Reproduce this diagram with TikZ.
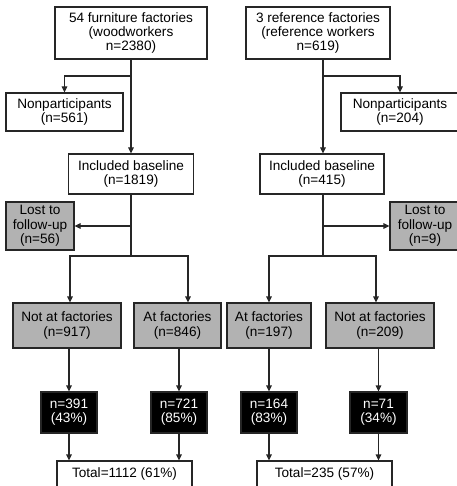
\documentclass[tikz,border=0pt]{standalone}
\usepackage{fontspec}
\setmainfont{Liberation Sans}
\usetikzlibrary{arrows.meta}
\begin{document}
\begin{tikzpicture}[x=1pt,y=-1pt,
  box/.style={draw=black!85,line width=1.1pt,fill=white,inner sep=0pt,align=center,
    font=\fontsize{13.6}{14.3}\selectfont},
  greybox/.style={box,fill=black!30},
  darkbox/.style={box,fill=black,text=white},
  ln/.style={draw=black!85,line width=1.1pt},
  arr/.style={ln,-{Triangle[length=6pt,width=5.5pt]}}]
\useasboundingbox (0,0) rectangle (456,486);

\node[box,minimum width=152,minimum height=52] (top1) at (131,33) {54 furniture factories\\(woodworkers\\n=2380)};
\node[box,minimum width=117,minimum height=38] (non1) at (64.5,112) {Nonparticipants\\(n=561)};
\node[box,minimum width=125,minimum height=40] (inc1) at (131,174) {Included baseline\\(n=1819)};
\node[greybox,minimum width=68,minimum height=48] (lost1) at (40,226) {Lost to\\follow-up\\(n=56)};
\node[greybox,minimum width=108,minimum height=45] (naf1) at (67,325.5) {Not at factories\\(n=917)};
\node[greybox,minimum width=87,minimum height=45] (af1) at (177.5,325.5) {At factories\\(n=846)};
\node[darkbox,minimum width=56,minimum height=41] (b1) at (69,412.5) {n=391\\(43\%)};
\node[darkbox,minimum width=56,minimum height=41] (b2) at (179,412.5) {n=721\\(85\%)};
\node[box,minimum width=135,minimum height=26] (tot1) at (124.5,474) {Total=1112 (61\%)};

\node[box,minimum width=144,minimum height=52] (top2) at (318,33) {3 reference factories\\(reference workers\\n=619)};
\node[box,minimum width=118,minimum height=38] (non2) at (400,112) {Nonparticipants\\(n=204)};
\node[box,minimum width=124,minimum height=40] (inc2) at (322,174) {Included baseline\\(n=415)};
\node[greybox,minimum width=70,minimum height=48] (lost2) at (425,226) {Lost to\\follow-up\\(n=9)};
\node[greybox,minimum width=84,minimum height=45] (af2) at (269,325.5) {At factories\\(n=197)};
\node[greybox,minimum width=108,minimum height=45] (naf2) at (380,325.5) {Not at factories\\(n=209)};
\node[darkbox,minimum width=56,minimum height=41] (b3) at (269,412.5) {n=164\\(83\%)};
\node[darkbox,minimum width=57,minimum height=41] (b4) at (378.5,412.5) {n=71\\(34\%)};
\node[box,minimum width=135,minimum height=26] (tot2) at (324.5,474) {Total=235 (57\%)};

\coordinate (s1) at (131,76);
\coordinate (l1) at (131,226);
\coordinate (j1) at (131,256);
\draw[arr] (top1) -- (inc1);
\draw[arr] (s1) -| (non1);
\draw[ln] (inc1) -- (j1);
\draw[arr] (l1) -- (lost1);
\draw[arr] (j1) -| ([xshift=3]naf1.north);
\draw[arr] (j1) -| ([xshift=10.5]af1.north);
\draw[arr] (b1 |- naf1.south) -- (b1);
\draw[arr] (b2 |- af1.south) -- (b2);
\draw[arr] (b1) -- (b1 |- tot1.north);
\draw[arr] (b2) -- (b2 |- tot1.north);

\coordinate (s2) at (323,76);
\coordinate (l2) at (323,226);
\coordinate (j2) at (323,256);
\draw[arr] (top2.south -| s2) -- (inc2.north -| s2);
\draw[arr] (s2) -| (non2);
\draw[ln] (inc2.south -| j2) -- (j2);
\draw[arr] (l2) -- (lost2);
\draw[arr] (j2) -| (af2);
\draw[arr] (j2) -| ([xshift=-4]naf2.north);
\draw[arr] (b3 |- af2.south) -- (b3);
\draw[arr] (b4 |- naf2.south) -- (b4);
\draw[arr] (b3) -- (b3 |- tot2.north);
\draw[arr] (b4) -- (b4 |- tot2.north);
\end{tikzpicture}
\end{document}
